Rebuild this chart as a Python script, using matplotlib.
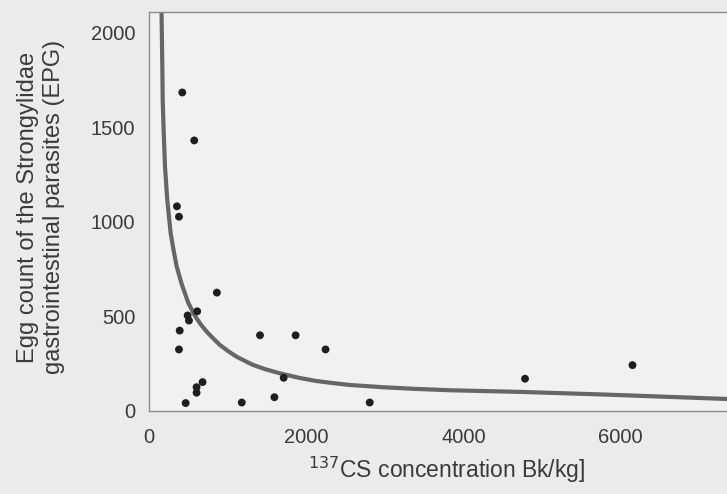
import matplotlib
matplotlib.use("Agg")
import matplotlib.pyplot as plt

plt.rcParams['font.family'] = ['Liberation Sans', 'DejaVu Sans']

# measured points (Bq/kg, EPG)
cs137 = [423, 575, 355, 381, 863, 491, 508, 613, 390, 381, 1412, 1865, 2246,
         1713, 681, 605, 605, 466, 1180, 1595, 2808, 4784, 6151]
epg = [1684, 1430, 1081, 1026, 624, 503, 476, 525, 423, 323, 398, 398, 323,
       173, 150, 123, 94, 39, 42, 70, 42, 168, 240]

# trend line
curve_x = [159, 169, 174, 187, 203, 232, 275, 316, 352, 415, 499, 584, 659, 732,
           808, 901, 1010, 1113, 1221, 1324, 1482, 1662, 1916, 2128, 2336, 2551,
           2973, 3397, 3820, 4746, 5812, 7335]
curve_y = [2111, 1821, 1645, 1469, 1292, 1115, 939, 840, 762, 670, 570, 501, 455, 418,
           385, 347, 313, 285, 262, 241, 218, 197, 172, 156, 145, 135,
           123, 114, 107, 98, 84, 61]

x_ticks = [0, 2000, 4000, 6000]
y_ticks = [0, 500, 1000, 1500, 2000]

bg = '#ebebea'
txt = '#3a3a3a'

fig = plt.figure(figsize=(7.27, 4.94), dpi=100, facecolor=bg)
ax = fig.add_axes([0.205, 0.168, 0.80, 0.808])
ax.set_facecolor('#f1f1f0')

ax.plot(curve_x, curve_y, color='#666666', lw=3.0, solid_joinstyle='round', zorder=2)
ax.scatter(cs137, epg, s=32, color='#1e1e1e', edgecolors='none', zorder=3)

ax.set_xlim(0, 7400)
ax.set_ylim(-3, 2111)
ax.set_xticks(x_ticks)
ax.set_yticks(y_ticks)
ax.tick_params(length=0, labelsize=14.5, colors=txt)
ax.tick_params(axis='y', pad=10)
ax.tick_params(axis='x', pad=12)

for s in ['left', 'top', 'bottom']:
    ax.spines[s].set_color('#8c8c8c')
    ax.spines[s].set_linewidth(1.0)
ax.spines['right'].set_visible(False)

fig.text(41 / 727, 1 - 207 / 494,
         'Egg count of the Strongylidae\ngastrointestinal parasites (EPG)',
         rotation=90, ha='center', va='center', fontsize=17, color=txt,
         linespacing=1.25)
fig.text(447 / 727, 1 - 470 / 494, '$^{137}$CS concentration Bk/kg]',
         ha='center', va='center', fontsize=16.5, color=txt)

fig.savefig('out.png', dpi=100, facecolor=bg)
